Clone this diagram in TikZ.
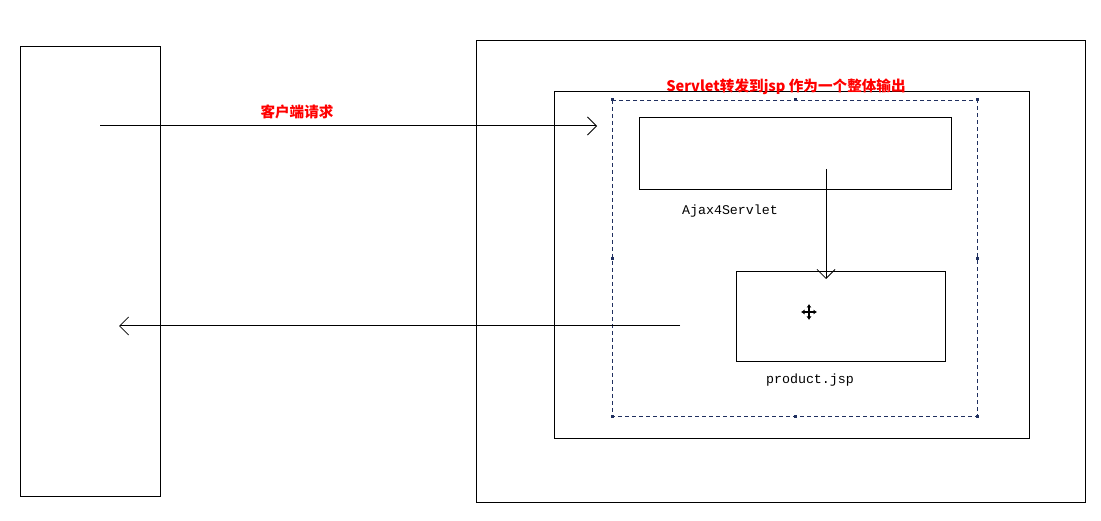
\documentclass[tikz,border=0pt]{standalone}
\usepackage{fontspec}
\setmonofont{Liberation Mono}
\newfontfamily\cjk{Noto Sans CJK SC}
\usetikzlibrary{arrows.meta}
\definecolor{selnavy}{HTML}{1F2F5F}
\tikzset{
  box/.style={draw=black, line width=1pt, rectangle, anchor=north west, inner sep=0pt},
  conn/.style={draw=black, line width=1pt, -{Straight Barb[length=9pt,width=18pt,line width=0.8pt]}},
  redlabel/.style={text=red, font=\cjk\bfseries\fontsize{14.6}{15}\selectfont, inner sep=0pt},
  monolabel/.style={font=\ttfamily\fontsize{13.3}{14}\selectfont, inner sep=0pt},
  handle/.style={fill=selnavy, draw=none, minimum size=3pt, inner sep=0pt, rectangle},
}
\begin{document}
\begin{tikzpicture}[x=1pt,y=-1pt]
\useasboundingbox (0,0) rectangle (1101,521);
\fill[white] (0,0) rectangle (1101,521);
% boxes
\node[box, minimum width=140pt, minimum height=450pt] (client) at (20,46) {};
\node[box, minimum width=609pt, minimum height=462pt] (server) at (476,40) {};
\node[box, minimum width=475pt, minimum height=347pt] (container) at (554,91) {};
\node[box, minimum width=312pt, minimum height=72pt] (ajax) at (639,117) {};
\node[box, minimum width=209pt, minimum height=90pt] (product) at (736,271) {};
% dashed selection
\draw[selnavy, line width=0.9pt, dash pattern=on 4pt off 3pt] (612,100) rectangle (977,416);
\foreach \p [count=\i] in {(612,100),(795,100),(977,100),(612,259),(977,259),(612,416),(795,416),(977,416)}
  \node[handle] (h\i) at \p {};
% labels
\node[redlabel] (title) at (786,87) {Servlet转发到jsp 作为一个整体输出};
\node[redlabel] (req) at (297,112) {客户端请求};
\node[monolabel] (ajaxlbl) at (730,211) {Ajax4Servlet};
\node[monolabel] (prodlbl) at (810,380) {product.jsp};
% connectors
\coordinate (a1s) at (100,126);
\coordinate (a1e) at (597,126);
\coordinate (a2s) at (826,169);
\coordinate (a2e) at (826,279);
\coordinate (a3s) at (680,326);
\coordinate (a3e) at (119,326);
\draw[conn] (a1s) -- (a1e);
\draw[conn] (a2s) -- (a2e);
\draw[conn] (a3s) -- (a3e);
% move cursor
\coordinate (mc) at (809,312);
\draw[line width=1.6pt, {Latex[length=3.5pt,width=5pt]}-{Latex[length=3.5pt,width=5pt]}] ([xshift=-8pt]mc) -- ([xshift=8pt]mc);
\draw[line width=1.6pt, {Latex[length=3.5pt,width=5pt]}-{Latex[length=3.5pt,width=5pt]}] ([yshift=-8pt]mc) -- ([yshift=8pt]mc);
\end{tikzpicture}
\end{document}
